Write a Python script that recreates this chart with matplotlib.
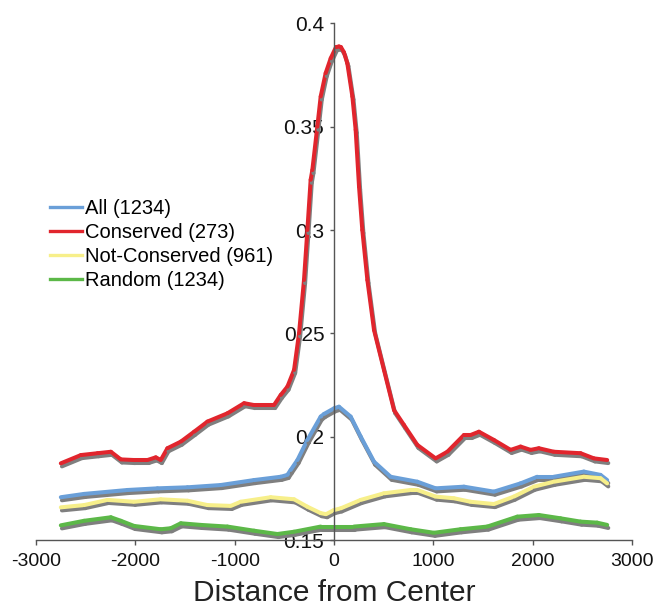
import matplotlib
matplotlib.use("Agg")
import matplotlib.pyplot as plt
import matplotlib.patheffects as pe
from matplotlib.lines import Line2D

plt.rcParams['font.family'] = ['Liberation Sans', 'DejaVu Sans']

# ---- data ----
labels = ["All (1234)", "Conserved (273)", "Not-Conserved (961)", "Random (1234)"]
colors = ["#6a9fd8", "#e1252d", "#f7ef8a", "#5cb848"]

all_x = [-2750, -2515, -2079, -1777, -1475, -1140, -805, -536, -469, -436, -368, -268,
         -134, -100, 0, 50, 168, 269, 403, 570, 839, 1023, 1308, 1610, 1878, 2046,
         2213, 2515, 2683, 2750]
all_y = [0.1707, 0.1723, 0.1742, 0.1750, 0.1755, 0.1766, 0.1790, 0.1806, 0.1815, 0.1839,
         0.1887, 0.1984, 0.2097, 0.2110, 0.2137, 0.2145, 0.2097, 0.2000, 0.1879, 0.1806,
         0.1782, 0.1750, 0.1758, 0.1734, 0.1774, 0.1806, 0.1806, 0.1831, 0.1815, 0.1790]

cons_x = [-2750, -2548, -2380, -2246, -2146, -2012, -1878, -1794, -1744, -1677, -1542,
          -1408, -1274, -1073, -905, -805, -604, -536, -469, -402, -352, -302, -268,
          -235, -218, -168, -134, -84, -33, 20, 50, 70, 100, 134, 185, 218, 252, 285,
          336, 403, 503, 604, 704, 839, 1023, 1141, 1308, 1375, 1459, 1610, 1778, 1878,
          1979, 2062, 2213, 2482, 2616, 2750]
cons_y = [0.1871, 0.1911, 0.1920, 0.1927, 0.1890, 0.1887, 0.1887, 0.1900, 0.1887, 0.1944,
          0.1976, 0.2024, 0.2073, 0.2113, 0.2162, 0.2153, 0.2153, 0.2202, 0.2242, 0.2323,
          0.2500, 0.2758, 0.3000, 0.3243, 0.3290, 0.3500, 0.3646, 0.3759, 0.3831, 0.3885,
          0.3888, 0.3885, 0.3860, 0.3807, 0.3646, 0.3485, 0.3210, 0.3000, 0.2758, 0.2516,
          0.2323, 0.2129, 0.2057, 0.1960, 0.1895, 0.1927, 0.2008, 0.2008, 0.2024, 0.1984,
          0.1936, 0.1952, 0.1936, 0.1944, 0.1927, 0.1920, 0.1895, 0.1887]

notc_x = [-2750, -2515, -2280, -2012, -1744, -1475, -1274, -1039, -939, -637, -402, -268,
          -134, -80, 0, 67, 269, 503, 772, 839, 1023, 1207, 1375, 1610, 1811, 2012, 2213,
          2515, 2683, 2750]
notc_y = [0.1658, 0.1669, 0.1694, 0.1685, 0.1697, 0.1690, 0.1669, 0.1665, 0.1685, 0.1707,
          0.1697, 0.1661, 0.1630, 0.1625, 0.1645, 0.1653, 0.1694, 0.1726, 0.1742, 0.1742,
          0.1710, 0.1702, 0.1685, 0.1674, 0.1710, 0.1758, 0.1782, 0.1806, 0.1799, 0.1774]

rand_x = [-2750, -2515, -2246, -2146, -2012, -1744, -1643, -1542, -1341, -1073, -805,
          -570, -402, -134, 0, 201, 503, 772, 1006, 1274, 1543, 1845, 2062, 2280, 2482,
          2649, 2750]
rand_y = [0.1571, 0.1593, 0.1610, 0.1593, 0.1568, 0.1552, 0.1557, 0.1581, 0.1573, 0.1565,
          0.1545, 0.1529, 0.1540, 0.1565, 0.1565, 0.1565, 0.1577, 0.1552, 0.1535, 0.1552,
          0.1565, 0.1613, 0.1621, 0.1605, 0.1589, 0.1584, 0.1573]

xticks = [-3000, -2000, -1000, 0, 1000, 2000, 3000]
yticks = [0.15, 0.2, 0.25, 0.3, 0.35, 0.4]
ytick_labels = ["0.15", "0.2", "0.25", "0.3", "0.35", "0.4"]

series = [(all_x, all_y), (cons_x, cons_y), (notc_x, notc_y), (rand_x, rand_y)]

# ---- figure ----
fig = plt.figure(figsize=(6.58, 6.06), dpi=100)
ax = fig.add_axes([0.0547, 0.1089, 0.9058, 0.8526])

shadow = [pe.SimpleLineShadow(offset=(0.8, -2.2), shadow_color="#7f7f7f", alpha=1.0),
          pe.Normal()]
# each segment drawn with its own shadow (as in the spreadsheet rendering)
for (xs, ys), c in zip(series, colors):
    for i in range(len(xs) - 1):
        ax.plot(xs[i:i + 2], ys[i:i + 2], color=c, lw=2.9, solid_capstyle="round",
                path_effects=shadow)

ax.set_xlim(-3000, 3000)
ax.set_ylim(0.15, 0.4)
ax.spines['top'].set_visible(False)
ax.spines['right'].set_visible(False)
ax.spines['left'].set_position(('data', 0))
for s in ('left', 'bottom'):
    ax.spines[s].set_color('#555555')
    ax.spines[s].set_linewidth(1.0)

ax.set_xticks(xticks)
ax.set_xticklabels([str(v) for v in xticks])
ax.set_yticks(yticks)
ax.set_yticklabels(ytick_labels)
ax.tick_params(axis='x', direction='out', length=3.5, width=1.0, color='#555555',
               labelsize=14, pad=6, labelcolor='#111111')
ax.tick_params(axis='y', direction='out', length=3.0, width=1.0, color='#555555',
               labelsize=15, pad=4, labelcolor='#111111')

ax.set_xlabel("Distance from Center", fontsize=21.5, color='#222222', labelpad=6)

handles = [Line2D([0], [0], color=c, lw=2.4) for c in colors]
fig.legend(handles, labels, loc='upper left', bbox_to_anchor=(50 / 658, 1 - 199 / 606),
           frameon=False, fontsize=14.5, handlelength=1.6, handletextpad=0.15,
           labelspacing=0.25, borderpad=0, borderaxespad=0)

fig.savefig("out.png", dpi=100)
